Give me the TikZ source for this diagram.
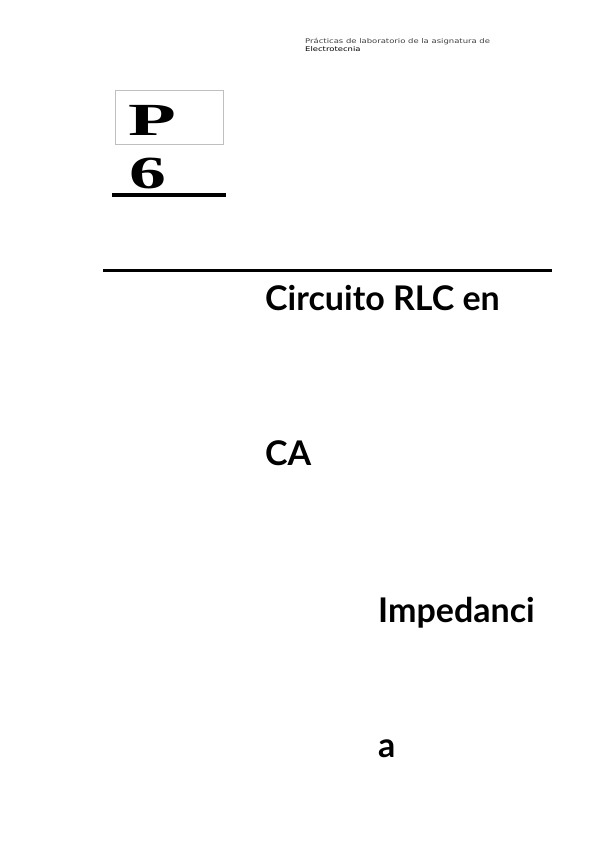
\documentclass[tikz,border=0pt]{standalone}
\usepackage{graphicx}
\usepackage{fontspec}
\setmainfont{Lato}
\newfontfamily\serifbold{Liberation Serif}
\newfontfamily\headfont{DejaVu Sans}
\usetikzlibrary{positioning}
\tikzstyle{title} = [anchor=base west, inner sep=0pt, font=\fontsize{34}{34}\selectfont\bfseries, text=black]
\tikzstyle{header} = [anchor=base west, inner sep=0pt, font=\fontsize{6.5}{7}\selectfont\headfont, text=black!75]
\tikzstyle{practice} = [anchor=base, inner sep=0pt, font=\fontsize{46}{46}\selectfont\serifbold\bfseries]
\tikzstyle{rule} = [draw=black, line cap=butt]

\begin{document}
\begin{tikzpicture}[x=1pt, y=-1pt]
    \useasboundingbox (0,0) rectangle (600,848);
    % running header
    \node[header] (headone) at (305,44) {\scalebox{1.3}[1]{Prácticas de laboratorio de la asignatura de}};
    \node[header, text=black] (headtwo) at (305,51.5) {\scalebox{1.3}[1]{Electrotecnia}};
    % practice number
    \node[draw=black!25, fill=white, minimum width=108pt, minimum height=54pt, inner sep=0pt] (pbox) at (169,117) {};
    \node[practice] (pletter) at (152,135.5) {\scalebox{1.7}[1]{P}};
    \node[practice] (six) at (148,188) {\scalebox{1.6}[1]{6}};
    \draw[rule, line width=4pt] (112,194.5) -- (226,194.5);
    \draw[rule, line width=3pt] (103,270) -- (552,270);
    % titles
    \node[title] (circuito) at (265,310) {Circuito RLC en};
    \node[title] (ca) at (265,465) {CA};
    \node[title] (impedanci) at (378,622) {Impedanci};
    \node[title] (a) at (378,757) {a};
\end{tikzpicture}
\end{document}
